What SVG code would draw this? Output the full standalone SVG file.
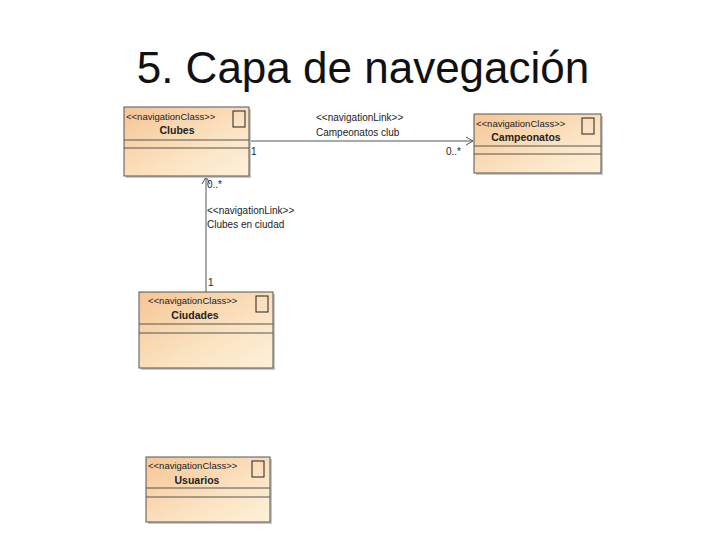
<svg xmlns="http://www.w3.org/2000/svg" width="728" height="546" viewBox="0 0 728 546">
<defs>
<linearGradient id="g" x1="0" y1="0" x2="1" y2="1">
<stop offset="0" stop-color="#f6c594"/><stop offset="0.6" stop-color="#fbe3c2"/><stop offset="1" stop-color="#fdf1da"/>
</linearGradient>
<marker id="a" markerWidth="10" markerHeight="10" refX="8" refY="5" orient="auto" markerUnits="userSpaceOnUse">
<path d="M1,1 L8,5 L1,9" fill="none" stroke="#555" stroke-width="1"/>
</marker>
<style>
.box{fill:url(#g);stroke:#555;stroke-width:1}
.sh{fill:#c8c8c8}
.ln{stroke:#555;stroke-width:1}
.ic{fill:none;stroke:#222;stroke-width:1}
.st{font-family:"Liberation Sans",Arial,sans-serif;font-size:9.5px;fill:#222}
.nm{font-family:"Liberation Sans",Arial,sans-serif;font-size:10.5px;font-weight:bold;fill:#222}
.lb{font-family:"Liberation Sans",Arial,sans-serif;font-size:10px;fill:#222}
</style>
</defs>
<rect width="728" height="546" fill="#fff"/>
<text x="363" y="83" text-anchor="middle" font-family="Liberation Sans,Arial,sans-serif" font-size="44" fill="#111">5. Capa de navegación</text>
<g id="connectors">
<line x1="249" y1="141" x2="473" y2="141" class="ln" marker-end="url(#a)"/>
<line x1="206" y1="292" x2="206" y2="177" class="ln" marker-end="url(#a)"/>
<text class="lb" x="316" y="121">&lt;&lt;navigationLink&gt;&gt;</text>
<text class="lb" x="316" y="136">Campeonatos club</text>
<text class="lb" x="251" y="155">1</text>
<text class="lb" x="446" y="155">0..*</text>
<text class="lb" x="207" y="188">0..*</text>
<text class="lb" x="207" y="214">&lt;&lt;navigationLink&gt;&gt;</text>
<text class="lb" x="207" y="228">Clubes en ciudad</text>
<text class="lb" x="208" y="286">1</text>
</g>
<g id="clubes">
<rect class="sh" x="126" y="109" width="125" height="69"/>
<rect class="box" x="124" y="107" width="125" height="69"/>
<line class="ln" x1="124" y1="140" x2="249" y2="140"/><line class="ln" x1="124" y1="148" x2="249" y2="148"/>
<rect class="ic" x="233" y="111" width="12" height="16"/>
<text class="st" x="126" y="120">&lt;&lt;navigationClass&gt;&gt;</text>
<text class="nm" x="177" y="134" text-anchor="middle">Clubes</text>
</g>
<g id="campeonatos">
<rect class="sh" x="476" y="116" width="127" height="59"/>
<rect class="box" x="474" y="114" width="127" height="59"/>
<line class="ln" x1="474" y1="146" x2="601" y2="146"/><line class="ln" x1="474" y1="154" x2="601" y2="154"/>
<rect class="ic" x="582" y="118" width="12" height="16"/>
<text class="st" x="476" y="127">&lt;&lt;navigationClass&gt;&gt;</text>
<text class="nm" x="526" y="141" text-anchor="middle">Campeonatos</text>
</g>
<g id="ciudades">
<rect class="sh" x="141" y="294" width="134" height="76"/>
<rect class="box" x="139" y="292" width="134" height="76"/>
<line class="ln" x1="139" y1="324" x2="273" y2="324"/><line class="ln" x1="139" y1="333" x2="273" y2="333"/>
<rect class="ic" x="256" y="296" width="12" height="16"/>
<text class="st" x="148" y="304">&lt;&lt;navigationClass&gt;&gt;</text>
<text class="nm" x="195" y="319" text-anchor="middle">Ciudades</text>
</g>
<g id="usuarios">
<rect class="sh" x="148" y="459" width="124" height="65"/>
<rect class="box" x="146" y="457" width="124" height="65"/>
<line class="ln" x1="146" y1="488" x2="270" y2="488"/><line class="ln" x1="146" y1="497" x2="270" y2="497"/>
<rect class="ic" x="252" y="461" width="12" height="16"/>
<text class="st" x="148" y="469">&lt;&lt;navigationClass&gt;&gt;</text>
<text class="nm" x="197" y="484" text-anchor="middle">Usuarios</text>
</g>
</svg>
